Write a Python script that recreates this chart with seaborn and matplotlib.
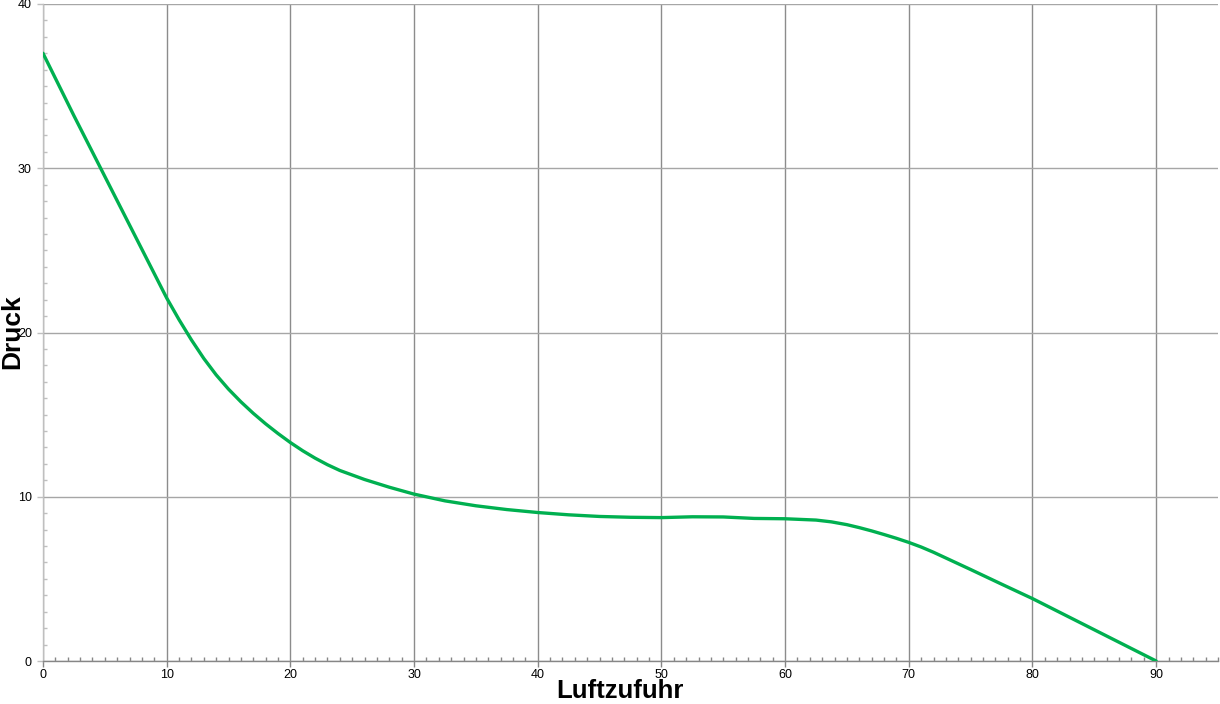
import matplotlib
matplotlib.use("Agg")
import matplotlib.pyplot as plt
import seaborn as sns
import pandas as pd
from matplotlib.ticker import MultipleLocator

luftzufuhr = [0, 2.5, 5, 7.5, 10, 11, 12, 13, 14, 15, 16, 17, 18, 19, 20, 21, 22, 23,
              24, 26, 28, 30, 32.5, 35, 37.5, 40, 42.5, 45, 47.5, 50, 52.5, 55, 57.5,
              60, 62.5, 63.75, 65, 66, 67, 68, 69, 70, 71, 72, 73, 75, 77.5, 80, 85, 90]
druck = [37.0, 33.2, 29.5, 25.8, 22.1, 20.78, 19.55, 18.42, 17.42, 16.55, 15.78,
         15.08, 14.44, 13.85, 13.3, 12.8, 12.35, 11.95, 11.6, 11.05, 10.58, 10.16,
         9.75, 9.45, 9.22, 9.04, 8.9, 8.8, 8.75, 8.73, 8.78, 8.77, 8.68, 8.66, 8.58,
         8.47, 8.3, 8.12, 7.92, 7.7, 7.47, 7.22, 6.94, 6.62, 6.27, 5.57, 4.68, 3.8,
         1.9, 0.0]

df = pd.DataFrame({"Luftzufuhr": luftzufuhr, "Druck": druck})

sns.set_style("white")
plt.rcParams['font.family'] = ['Liberation Sans', 'DejaVu Sans']

fig = plt.figure(figsize=(12.2, 7.04), dpi=100)
ax = fig.add_axes([43/1220, 1 - 661/704, (1218-43)/1220, (661-4)/704])

sns.lineplot(data=df, x="Luftzufuhr", y="Druck", ax=ax, color="#00B050",
             linewidth=2.4, zorder=3)

ax.set_xlim(0, 95)
ax.set_ylim(0, 40)
ax.xaxis.set_major_locator(MultipleLocator(10))
ax.xaxis.set_minor_locator(MultipleLocator(1))
ax.yaxis.set_major_locator(MultipleLocator(10))
ax.yaxis.set_minor_locator(MultipleLocator(1))
ax.set_xticks(range(0, 91, 10))

ax.grid(True, which="major", axis="x", color="#8c8c8c", linewidth=1.0, zorder=0)
ax.grid(True, which="major", axis="y", color="#a6a6a6", linewidth=1.0, zorder=0)

for s in ["top", "right"]:
    ax.spines[s].set_visible(False)
ax.spines["left"].set_color("#bfbfbf")
ax.spines["bottom"].set_color("#868686")
ax.spines["left"].set_linewidth(1.0)
ax.spines["bottom"].set_linewidth(1.0)

ax.tick_params(axis="x", which="major", bottom=True, direction="out", length=4,
               width=1, color="#868686", labelsize=9, labelcolor="black", pad=2)
ax.tick_params(axis="x", which="minor", bottom=True, direction="in", length=3,
               width=1, color="#868686")
ax.tick_params(axis="y", which="major", left=True, direction="out", length=4,
               width=1, color="#bfbfbf", labelsize=9, labelcolor="black", pad=4)
ax.tick_params(axis="y", which="minor", left=True, direction="in", length=3,
               width=1, color="#bfbfbf")

ax.set_xlabel("")
ax.set_ylabel("")
fig.text(620/1220, 0.5/704, "Luftzufuhr", fontsize=18.5, fontweight="bold",
         ha="center", va="bottom", color="black")
fig.text(0.5/1220, 1 - 332/704, "Druck", fontsize=19, fontweight="bold",
         ha="left", va="center", rotation=90, color="black")

fig.savefig("out.png", dpi=100)
